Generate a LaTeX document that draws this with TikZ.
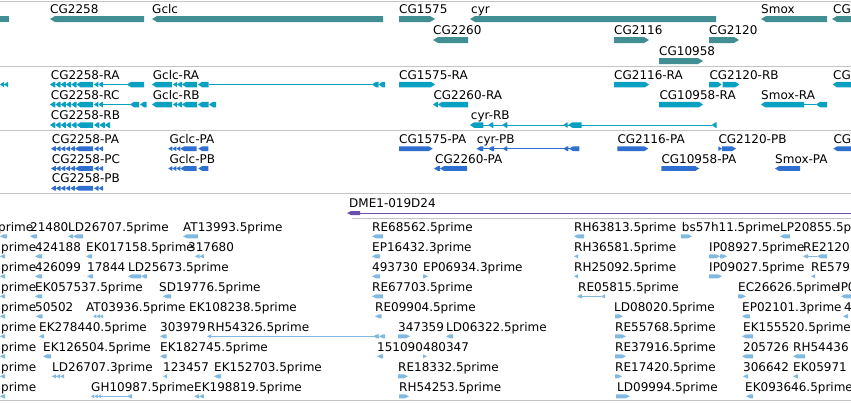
\documentclass[tikz,border=0pt]{standalone}
\usepackage{fontspec}
\setmainfont{DejaVu Sans}
\definecolor{gene}{HTML}{418F92}
\definecolor{tx}{HTML}{0AA0C2}
\definecolor{prot}{HTML}{2F6FD0}
\definecolor{dme}{HTML}{6B4FB0}
\definecolor{est}{HTML}{82B9E0}
\definecolor{sep}{HTML}{C4C4C4}
\newcommand{\gtip}{4}
% left / right pointing exon: colour, x-start, x-end, y-centre, half-height
\newcommand{\exL}[5]{\fill[#1] ({#2},{#4}) -- ({min(#2+\gtip,#3)},{#4-#5}) -- ({#3},{#4-#5}) -- ({#3},{#4+#5}) -- ({min(#2+\gtip,#3)},{#4+#5}) -- cycle;}
\newcommand{\exR}[5]{\fill[#1] ({#3},{#4}) -- ({max(#3-\gtip,#2)},{#4-#5}) -- ({#2},{#4-#5}) -- ({#2},{#4+#5}) -- ({max(#3-\gtip,#2)},{#4+#5}) -- cycle;}
% chevron run: colour, start, count, width, y, half-height
\newcommand{\chL}[6]{\foreach \k in {1,...,#3} {\exL{#1}{#2+(\k-1)*#4}{#2+\k*#4}{#5}{#6}}}
\newcommand{\intr}[4]{\draw[#1,line width=1pt] ({#2},{#4}) -- ({#3},{#4});}
\newcount\labn
\newcommand{\lab}[3]{\global\advance\labn by 1\relax\node[lbl] (n\the\labn) at ({#1},{#2}) {#3};}
\begin{document}
\begin{tikzpicture}[x=1pt,y=-1pt,
  lbl/.style={anchor=base west,inner sep=0pt,font=\fontsize{12}{14}\selectfont,text=black},
  sepline/.style={draw=sep,line width=1pt}]
\useasboundingbox (0,0) rectangle (851,402);
\clip (0,0) rectangle (851,402);
\fill[white] (0,0) rectangle (851,402);
% separators
\draw[sepline] (0,1) -- (851,1);
\draw[sepline] (0,66) -- (851,66);
\draw[sepline] (0,130) -- (851,130);
\draw[sepline] (0,193.5) -- (851,193.5);
\draw[sepline] (352,218) -- (851,218);
\draw[sepline] (0,400.5) -- (851,400.5);

% ---------------- track 1: genes
\renewcommand{\gtip}{5}
\fill[gene] (0,16) rectangle (9,22);
\exL{gene}{50}{144}{19}{3}
\exL{gene}{152}{383}{19}{3}
\exR{gene}{399}{435}{19}{3}
\exL{gene}{470}{716}{19}{3}
\exL{gene}{761}{827}{19}{3}
\exL{gene}{832}{858}{19}{3}
\exL{gene}{433}{468}{40}{3}
\exR{gene}{614}{649}{40}{3}
\exR{gene}{709}{739}{40}{3}
\exR{gene}{659}{703}{61}{3}
\lab{50}{13}{CG2258}
\lab{152}{13}{Gclc}
\lab{399}{13}{CG1575}
\lab{471}{13}{cyr}
\lab{761}{13}{Smox}
\lab{833}{13}{CG}
\lab{433}{34}{CG2260}
\lab{614}{34}{CG2116}
\lab{709}{34}{CG2120}
\lab{659}{55}{CG10958}

% ---------------- track 2: transcripts
\renewcommand{\gtip}{4}
\exL{tx}{0}{4}{84.5}{2.75}
\exL{tx}{4}{8}{84.5}{2.75}
% CG2258-RA
\chL{tx}{50}{5}{5.3}{84.5}{2.75}
\exL{tx}{76.5}{93}{84.5}{2.75}
\chL{tx}{94}{2}{4.4}{84.5}{2.75}
\intr{tx}{102.8}{127}{84.5}
\exL{tx}{127}{144}{84.5}{2.75}
% Gclc-RA
\exL{tx}{152}{172}{84.5}{2.75}
\exL{tx}{173}{177}{84.5}{2.75}
\exL{tx}{177}{182}{84.5}{2.75}
\exL{tx}{182}{197}{84.5}{2.75}
\exL{tx}{198}{208.5}{84.5}{2.75}
\intr{tx}{208.5}{372}{84.5}
\chL{tx}{372}{2}{6.5}{84.5}{2.75}
% CG2258-RC
\chL{tx}{50}{5}{5.3}{104.5}{2.75}
\exL{tx}{76.5}{93}{104.5}{2.75}
\chL{tx}{94}{2}{4.4}{104.5}{2.75}
\intr{tx}{102.8}{130}{104.5}
\exL{tx}{130}{139}{104.5}{2.75}
\exL{tx}{140}{146.7}{104.5}{2.75}
% Gclc-RB
\exL{tx}{152}{172}{104.5}{2.75}
\exL{tx}{173}{177}{104.5}{2.75}
\exL{tx}{177}{182}{104.5}{2.75}
\exL{tx}{182}{197}{104.5}{2.75}
\exL{tx}{198}{208.5}{104.5}{2.75}
\exL{tx}{209}{216}{104.5}{2.75}
% CG2258-RB
\chL{tx}{50}{5}{5.3}{125}{2.75}
\exL{tx}{76.5}{93}{125}{2.75}
\chL{tx}{94}{3}{5.4}{125}{2.75}
% others
\exR{tx}{399}{435}{84.5}{2.75}
\exL{tx}{433}{438}{104.5}{2.75}
\exL{tx}{438}{468}{104.5}{2.75}
\intr{tx}{483}{712}{125}
\exL{tx}{470}{483.3}{125}{2.75}
\exL{tx}{488.3}{493.3}{125}{2.75}
\exL{tx}{502.3}{507.3}{125}{2.75}
\exL{tx}{563.3}{567.7}{125}{2.75}
\exL{tx}{568.3}{581.7}{125}{2.75}
\exL{tx}{711.7}{716.7}{125}{2.75}
\exR{tx}{614}{649}{84.5}{2.75}
\exR{tx}{709}{721.7}{84.5}{2.75}
\exR{tx}{722.7}{739.3}{84.5}{2.75}
\exR{tx}{659}{703}{104.5}{2.75}
\exL{tx}{761}{804}{104.5}{2.75}
\intr{tx}{804}{816}{104.5}
\exL{tx}{816}{827}{104.5}{2.75}
\exL{tx}{832.7}{858}{84.5}{2.75}
\lab{50.7}{79}{CG2258-RA}
\lab{152.7}{79}{Gclc-RA}
\lab{399}{79}{CG1575-RA}
\lab{614}{79}{CG2116-RA}
\lab{709.3}{79}{CG2120-RB}
\lab{833}{79}{CG}
\lab{50.7}{99}{CG2258-RC}
\lab{152.7}{99}{Gclc-RB}
\lab{433.3}{99}{CG2260-RA}
\lab{659.3}{99}{CG10958-RA}
\lab{761}{99}{Smox-RA}
\lab{50.7}{119.5}{CG2258-RB}
\lab{470.7}{119.5}{cyr-RB}

% ---------------- track 3: proteins
\foreach \yy in {148.7,168.5,188.3}{
  \chL{prot}{51}{5}{4.8}{\yy}{2.4}
  \exL{prot}{75}{93}{\yy}{2.4}
  \chL{prot}{94}{2}{4.6}{\yy}{2.4}
}
\foreach \yy in {148.7,168.5}{
  \chL{prot}{168.3}{3}{4}{\yy}{2.4}
  \exL{prot}{180.3}{196.7}{\yy}{2.4}
  \exL{prot}{198.3}{208.3}{\yy}{2.4}
}
\exR{prot}{399}{432.7}{148.7}{2.4}
\intr{prot}{483.3}{570}{148.7}
\exL{prot}{476.7}{483.3}{148.7}{2.4}
\exL{prot}{488.3}{494}{148.7}{2.4}
\exL{prot}{502.7}{507.3}{148.7}{2.4}
\exL{prot}{563.3}{568.3}{148.7}{2.4}
\exL{prot}{569}{579.3}{148.7}{2.4}
\exR{prot}{617.3}{648.3}{148.7}{2.4}
\exR{prot}{718.3}{722}{148.7}{2.4}
\exR{prot}{722}{736}{148.7}{2.4}
\exL{prot}{833.3}{858}{148.7}{2.4}
\exL{prot}{434}{440}{168.5}{2.4}
\exL{prot}{440}{467}{168.5}{2.4}
\exR{prot}{661.3}{699.3}{168.5}{2.4}
\exL{prot}{775}{800}{168.5}{2.4}
\lab{51.7}{143.3}{CG2258-PA}
\lab{169.3}{143.3}{Gclc-PA}
\lab{399}{143.3}{CG1575-PA}
\lab{476.7}{143.3}{cyr-PB}
\lab{617.3}{143.3}{CG2116-PA}
\lab{718.3}{143.3}{CG2120-PB}
\lab{833.3}{143.3}{CG}
\lab{51.7}{163}{CG2258-PC}
\lab{169.3}{163}{Gclc-PB}
\lab{435}{163}{CG2260-PA}
\lab{661.3}{163}{CG10958-PA}
\lab{775}{163}{Smox-PA}
\lab{51.7}{182.5}{CG2258-PB}

% ---------------- track 4
\intr{dme}{358}{851}{213}
\exL{dme}{347}{360}{213}{2}
\lab{349}{207.7}{DME1-019D24}

% ---------------- track 5: ESTs
% row 0
\exL{est}{0}{7}{236.3}{2}
\exL{est}{30}{37}{236.3}{2}
\exL{est}{68}{73}{236.3}{2}
\exL{est}{73}{83}{236.3}{2}
\exL{est}{183}{198}{236.3}{2}
\exL{est}{372}{383}{236.3}{2}
\exL{est}{574}{584}{236.3}{2}
\exR{est}{681}{692}{236.3}{2}
\exL{est}{780}{790}{236.3}{2}
\lab{-2}{231}{prime}
\lab{30}{231}{21480}
\lab{68}{231}{LD26707.5prime}
\lab{183}{231}{AT13993.5prime}
\lab{372}{231}{RE68562.5prime}
\lab{574}{231}{RH63813.5prime}
\lab{681.7}{231}{bs57h11.5prime}
\lab{780}{231}{LP20855.5prime}
% row 1
\exL{est}{0}{5}{256.3}{2}
\exL{est}{35}{42}{256.3}{2}
\exL{est}{86}{92}{256.3}{2}
\chL{est}{195}{2}{4.6}{256.3}{2}
\exL{est}{372}{380}{256.3}{2}
\exL{est}{574}{578}{256.3}{2}
\exR{est}{709}{720}{256.3}{2}
\exR{est}{720}{727}{256.3}{2}
\intr{est}{806}{817}{256.3}
\exL{est}{803}{808}{256.3}{2}
\exL{est}{817}{827}{256.3}{2}
\lab{1}{251}{prime}
\lab{35}{251}{424188}
\lab{86}{251}{EK017158.5prime}
\lab{188}{251}{317680}
\lab{372}{251}{EP16432.3prime}
\lab{574}{251}{RH36581.5prime}
\lab{709}{251}{IP08927.5prime}
\lab{803}{251}{RE2120}
% row 2
\exL{est}{0}{5}{276.3}{2}
\exL{est}{35}{42}{276.3}{2}
\exL{est}{87}{93}{276.3}{2}
\exL{est}{128}{141}{276.3}{2}
\exL{est}{141}{147}{276.3}{2}
\exL{est}{372}{380}{276.3}{2}
\exR{est}{423}{428}{276.3}{2}
\exL{est}{574}{578}{276.3}{2}
\exR{est}{709}{722}{276.3}{2}
\exL{est}{811}{815}{276.3}{2}
\lab{1}{271}{prime}
\lab{35}{271}{426099}
\lab{87}{271}{17844}
\lab{128}{271}{LD25673.5prime}
\lab{372}{271}{493730}
\lab{423}{271}{EP06934.3prime}
\lab{574}{271}{RH25092.5prime}
\lab{709}{271}{IP09027.5prime}
\lab{811}{271}{RE579}
% row 3
\exL{est}{0}{5}{296.3}{2}
\exL{est}{35}{42}{296.3}{2}
\exL{est}{163}{171}{296.3}{2}
\exL{est}{372}{383}{296.3}{2}
\intr{est}{580}{601}{296.3}
\exL{est}{577}{582}{296.3}{2}
\exL{est}{601}{605}{296.3}{2}
\exR{est}{738}{746}{296.3}{2}
\exL{est}{841}{851}{296.3}{2}
\lab{1}{291}{prime}
\lab{35}{291}{EK057537.5prime}
\lab{159}{291}{SD19776.5prime}
\lab{372}{291}{RE67703.5prime}
\lab{578}{291}{RE05815.5prime}
\lab{738}{291}{EC26626.5prime}
\lab{837}{291}{IP0}
% row 4
\exL{est}{0}{5}{316.3}{2}
\exL{est}{36}{42.7}{316.3}{2}
\chL{est}{93}{3}{3.4}{316.3}{2}
\exL{est}{375}{381.7}{316.3}{2}
\exR{est}{615}{623}{316.3}{2}
\exL{est}{742}{750}{316.3}{2}
\exL{est}{843}{848}{316.3}{2}
\lab{1}{311}{prime}
\lab{35}{311}{50502}
\lab{86}{311}{AT03936.5prime}
\lab{189}{311}{EK108238.5prime}
\lab{375}{311}{RE09904.5prime}
\lab{614}{311}{LD08020.5prime}
\lab{742}{311}{EP02101.3prime}
\lab{844}{311}{4}
% row 5
\exL{est}{0}{5}{336.3}{2}
\exL{est}{39}{44}{336.3}{2}
\exL{est}{160}{166.7}{336.3}{2}
\intr{est}{209}{374}{336.3}
\exL{est}{207}{211}{336.3}{2}
\exL{est}{373}{379}{336.3}{2}
\exL{est}{379}{385}{336.3}{2}
\exR{est}{398}{410}{336.3}{2}
\exL{est}{446}{453}{336.3}{2}
\exR{est}{615}{626}{336.3}{2}
\exL{est}{742}{753}{336.3}{2}
\lab{1}{331}{prime}
\lab{39}{331}{EK278440.5prime}
\lab{160}{331}{303979}
\lab{207}{331}{RH54326.5prime}
\lab{398}{331}{347359}
\lab{446}{331}{LD06322.5prime}
\lab{615}{331}{RE55768.5prime}
\lab{743}{331}{EK155520.5prime}
% row 6
\exL{est}{0}{5}{356.3}{2}
\exL{est}{43}{51}{356.3}{2}
\exL{est}{160}{166.7}{356.3}{2}
\exL{est}{377}{383}{356.3}{2}
\exR{est}{423}{427}{356.3}{2}
\exR{est}{615}{626}{356.3}{2}
\exL{est}{742}{753}{356.3}{2}
\exL{est}{793}{805}{356.3}{2}
\lab{1}{351}{prime}
\lab{43}{351}{EK126504.5prime}
\lab{160}{351}{EK182745.5prime}
\lab{377}{351}{151090}
\lab{423}{351}{480347}
\lab{615}{351}{RE37916.5prime}
\lab{743}{351}{205726}
\lab{793}{351}{RH54436}
% row 7
\exL{est}{0}{5}{376.3}{2}
\chL{est}{51.7}{3}{4.1}{376.3}{2}
\exL{est}{163}{167}{376.3}{2}
\exL{est}{214}{221}{376.3}{2}
\exR{est}{398}{408}{376.3}{2}
\exR{est}{615}{622}{376.3}{2}
\exL{est}{743}{748}{376.3}{2}
\exL{est}{793}{798}{376.3}{2}
\lab{1}{371}{prime}
\lab{52}{371}{LD26707.3prime}
\lab{163}{371}{123457}
\lab{214}{371}{EK152703.5prime}
\lab{398}{371}{RE18332.5prime}
\lab{615}{371}{RE17420.5prime}
\lab{743}{371}{306642}
\lab{793}{371}{EK05971}
% row 8
\exL{est}{0}{5}{396.3}{2}
\chL{est}{91}{3}{3.4}{396.3}{2}
\intr{est}{101}{128}{396.3}
\exL{est}{127}{132}{396.3}{2}
\chL{est}{194.3}{2}{4.8}{396.3}{2}
\exR{est}{399}{409}{396.3}{2}
\exR{est}{616}{630}{396.3}{2}
\exL{est}{746}{753}{396.3}{2}
\lab{1}{391}{prime}
\lab{91}{391}{GH10987.5prime}
\lab{194}{391}{EK198819.5prime}
\lab{399}{391}{RH54253.5prime}
\lab{617}{391}{LD09994.5prime}
\lab{745}{391}{EK093646.5prime}
\end{tikzpicture}
\end{document}
